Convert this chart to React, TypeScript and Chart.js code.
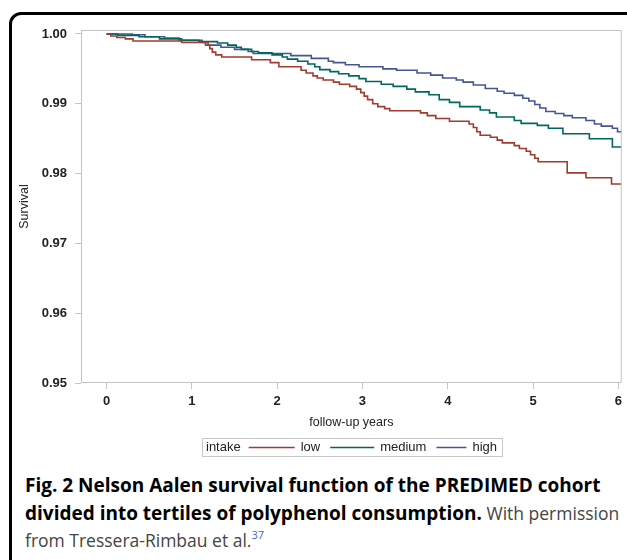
import React, { useEffect, useRef } from "react";
import { Chart, registerables } from "chart.js";

Chart.register(...registerables);

// ---- data ----
const seriesLabels = ["low", "medium", "high"];
const legendTitle = "intake";
const xTitle = "follow-up years";
const yTitle = "Survival";
const xTickValues = [0, 1, 2, 3, 4, 5, 6];
const yTickValues = [0.95, 0.96, 0.97, 0.98, 0.99, 1.0];

const lowT = [0, 0.05, 0.12, 0.22, 0.31, 0.88, 1.19, 1.21, 1.24, 1.28, 1.35, 1.7, 1.92, 2.02, 2.28, 2.34, 2.42, 2.47, 2.54, 2.66, 2.73, 2.85, 2.93, 2.98, 3.02, 3.06, 3.12, 3.18, 3.26, 3.32, 3.68, 3.76, 3.86, 4.02, 4.25, 4.3, 4.34, 4.38, 4.5, 4.58, 4.64, 4.78, 4.84, 4.92, 4.97, 5.02, 5.06, 5.4, 5.62, 5.92, 6.04];
const lowS = [1.0, 0.9997, 0.9995, 0.9993, 0.999, 0.9988, 0.9984, 0.9979, 0.9974, 0.997, 0.9967, 0.9963, 0.9959, 0.9953, 0.9948, 0.9944, 0.994, 0.9937, 0.9934, 0.9931, 0.9928, 0.9925, 0.9921, 0.9916, 0.9911, 0.9906, 0.99, 0.9896, 0.9893, 0.989, 0.9887, 0.9883, 0.9879, 0.9875, 0.9871, 0.9866, 0.986, 0.9855, 0.9852, 0.9848, 0.9844, 0.984, 0.9836, 0.9832, 0.9827, 0.9822, 0.9817, 0.9801, 0.9794, 0.9785, 0.9785];

const medT = [0, 0.13, 0.38, 0.62, 0.88, 1.08, 1.3, 1.42, 1.52, 1.58, 1.7, 1.78, 1.94, 2.06, 2.12, 2.24, 2.36, 2.44, 2.5, 2.62, 2.72, 2.84, 2.96, 3.04, 3.22, 3.36, 3.52, 3.62, 3.78, 3.9, 4.02, 4.14, 4.38, 4.49, 4.57, 4.78, 4.86, 5.05, 5.18, 5.35, 5.66, 5.93, 6.04];
const medS = [1.0, 0.9998, 0.9996, 0.9993, 0.9991, 0.9989, 0.9987, 0.9984, 0.9981, 0.9978, 0.9975, 0.9973, 0.997, 0.9967, 0.9964, 0.9961, 0.9957, 0.9953, 0.9949, 0.9946, 0.9943, 0.994, 0.9936, 0.9932, 0.9928, 0.9925, 0.9921, 0.9917, 0.9913, 0.9906, 0.9902, 0.9896, 0.9891, 0.9887, 0.9881, 0.9876, 0.9872, 0.9869, 0.9865, 0.9857, 0.985, 0.9838, 0.9838];

const highT = [0, 0.3, 0.45, 0.68, 0.85, 1.12, 1.16, 1.34, 1.5, 1.66, 1.72, 2.16, 2.4, 2.6, 2.66, 2.8, 2.96, 3.24, 3.4, 3.64, 3.8, 3.94, 4.1, 4.18, 4.3, 4.44, 4.58, 4.66, 4.78, 4.88, 4.95, 5.02, 5.08, 5.15, 5.26, 5.36, 5.46, 5.62, 5.72, 5.8, 5.93, 5.99, 6.04];
const highS = [1.0, 0.9999, 0.9996, 0.9994, 0.9991, 0.9988, 0.9984, 0.9981, 0.9978, 0.9975, 0.9972, 0.9969, 0.9965, 0.9961, 0.9959, 0.9956, 0.9953, 0.995, 0.9948, 0.9944, 0.9941, 0.9937, 0.9934, 0.9931, 0.9927, 0.9922, 0.9918, 0.9915, 0.9912, 0.9908, 0.9904, 0.9899, 0.9894, 0.9889, 0.9886, 0.9883, 0.988, 0.9876, 0.9871, 0.9868, 0.9865, 0.986, 0.986];

const seriesT = [lowT, medT, highT];
const seriesS = [lowS, medS, highS];
const seriesColors = ["#A23A2E", "#01665E", "#445694"];

const FONT = "'Liberation Sans', Arial, sans-serif";

const framePlugin = {
  id: "frame",
  afterDatasetsDraw(chart: any) {
    const { ctx, chartArea: a } = chart;
    ctx.save();
    ctx.strokeStyle = "#c4c4c4";
    ctx.lineWidth = 1;
    ctx.strokeRect(a.left + 0.5, a.top + 0.5, a.right - a.left - 1, a.bottom - a.top - 1);
    ctx.restore();
  },
};

const legendPlugin = {
  id: "customLegend",
  afterDraw(chart: any) {
    const { ctx } = chart;
    const lineLens = [46, 44, 30];
    const top = 438;
    const h = 18;
    const left = 202;
    const cy = top + h / 2 + 0.5;
    ctx.save();
    ctx.font = `13px ${FONT}`;
    ctx.textBaseline = "middle";
    ctx.fillStyle = "#222";
    let x = left + 4;
    ctx.fillText(legendTitle, x, cy);
    x += ctx.measureText(legendTitle).width + 8;
    chart.data.datasets.forEach((ds: any, i: number) => {
      ctx.strokeStyle = ds.borderColor;
      ctx.lineWidth = 1.5;
      ctx.beginPath();
      ctx.moveTo(x, cy);
      ctx.lineTo(x + lineLens[i], cy);
      ctx.stroke();
      x += lineLens[i] + 6;
      ctx.fillText(ds.label, x, cy);
      x += ctx.measureText(ds.label).width + 10;
    });
    const right = x - 10 + 5;
    ctx.strokeStyle = "#c8c8c8";
    ctx.lineWidth = 1;
    ctx.strokeRect(left + 0.5, top + 0.5, right - left, h);
    ctx.restore();
  },
};

export default function App() {
  const ref = useRef<HTMLCanvasElement | null>(null);
  useEffect(() => {
    if (!ref.current) return;
    const datasets = seriesLabels.map((label, i) => ({
      label,
      data: seriesT[i].map((t, j) => ({ x: t, y: seriesS[i][j] })),
      borderColor: seriesColors[i],
      backgroundColor: seriesColors[i],
      borderWidth: 1.6,
      pointRadius: 0,
      stepped: true,
      fill: false,
    }));
    const chart = new Chart(ref.current, {
      type: "line",
      data: { datasets },
      plugins: [framePlugin, legendPlugin],
      options: {
        animation: false,
        responsive: false,
        devicePixelRatio: 1,
        layout: { padding: { top: 30, right: 5, left: 0, bottom: 0 } },
        plugins: { legend: { display: false }, tooltip: { enabled: false }, title: { display: false } },
        scales: {
          x: {
            type: "linear",
            min: -0.3,
            max: 6.04,
            afterBuildTicks: (s: any) => {
              s.ticks = xTickValues.map((v) => ({ value: v }));
            },
            afterFit: (s: any) => {
              s.height = 87;
            },
            grid: { drawOnChartArea: false, color: "#c4c4c4", tickLength: 6 },
            border: { display: false },
            ticks: {
              padding: 5,
              color: "#222",
              font: { family: FONT, size: 13, weight: "bold" },
              maxRotation: 0,
              autoSkip: false,
              callback: (v: any) => String(v),
            },
            title: {
              display: true,
              text: xTitle,
              color: "#222",
              font: { family: FONT, size: 12.5 },
              padding: { top: 0, bottom: 39.5 },
            },
          },
          y: {
            type: "linear",
            min: 0.95,
            max: 1.00057,
            afterBuildTicks: (s: any) => {
              s.ticks = yTickValues.map((v) => ({ value: v }));
            },
            afterFit: (s: any) => {
              s.width = 81;
            },
            grid: { drawOnChartArea: false, color: "#c4c4c4", tickLength: 6 },
            border: { display: false },
            ticks: {
              padding: 8,
              color: "#222",
              font: { family: FONT, size: 13, weight: "bold" },
              autoSkip: false,
              callback: (v: any) => Number(v).toFixed(2),
            },
            title: {
              display: true,
              text: yTitle,
              color: "#222",
              font: { family: FONT, size: 12.5 },
              padding: { top: 17.5, bottom: 0 },
            },
          },
        },
      },
    } as any);
    return () => chart.destroy();
  }, []);

  return (
    <div style={{ position: "absolute", left: 0, top: 0, width: 627, height: 560, overflow: "hidden", background: "#fff" }}>
      <div
        style={{
          position: "absolute",
          left: 9,
          top: 12,
          width: 680,
          height: 620,
          border: "3px solid #000",
          borderRadius: 12,
          boxSizing: "border-box",
        }}
      />
      <canvas ref={ref} width={627} height={470} style={{ position: "absolute", left: 0, top: 0, width: 627, height: 470 }} />
      <div
        style={{
          position: "absolute",
          left: 25,
          top: 472,
          fontFamily: "'Open Sans', sans-serif",
          fontSize: 19,
          lineHeight: "27.5px",
          color: "#000",
          whiteSpace: "nowrap",
        }}
      >
        <div style={{ fontWeight: 700 }}>Fig. 2 Nelson Aalen survival function of the PREDIMED cohort</div>
        <div>
          <span style={{ fontWeight: 700 }}>divided into tertiles of polyphenol consumption.</span>
          <span style={{ color: "#444", fontSize: 17.5 }}> With permission</span>
        </div>
        <div style={{ color: "#444", fontSize: 17.5 }}>
          from Tressera-Rimbau et al.
          <span style={{ color: "#4a5ee8", fontSize: 11, position: "relative", top: -8 }}>37</span>
        </div>
      </div>
    </div>
  );
}
